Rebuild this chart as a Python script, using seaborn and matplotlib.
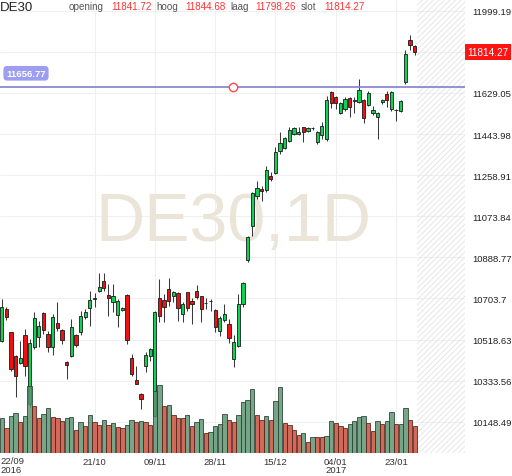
import numpy as np
import pandas as pd
import matplotlib
matplotlib.use("Agg")
import matplotlib.pyplot as plt
import seaborn as sns

# daily candles DE30, 22/09/2016 .. 27/01/2017
opens = [10510, 10656, 10551, 10443, 10413, 10539, 10228, 10483, 10531, 10637,
         10543, 10486, 10594, 10563, 10419, 10443, 10539, 10551, 10619, 10659,
         10703, 10738, 10781, 10719, 10686, 10629, 10650, 10720, 10435, 10336,
         10273, 10401, 10443, 10175, 10704, 10696, 10746, 10716, 10727, 10633,
         10731, 10693, 10738, 10713, 10683, 10693, 10651, 10558, 10608, 10588,
         10431, 10488, 10678, 10878, 11031, 11166, 11196, 11192, 11254, 11268,
         11369, 11381, 11414, 11444, 11444, 11474, 11458, 11470, 11407, 11440,
         11422, 11632, 11609, 11537, 11557, 11605, 11595, 11587, 11598, 11575,
         11539, 11519, 11589, 11624, 11557, 11551, 11549, 11677, 11869, 11841.72]
highs = [10701, 10666, 10553, 10449, 10513, 10566, 10521, 10641, 10603, 10642,
         10558, 10633, 10686, 10566, 10423, 10611, 10543, 10648, 10656, 10738,
         10727, 10817, 10817, 10768, 10768, 10701, 10664, 10724, 10453, 10398,
         10278, 10461, 10480, 10648, 10791, 10724, 10794, 10738, 10731, 10686,
         10734, 10704, 10764, 10716, 10704, 10701, 10656, 10626, 10678, 10611,
         10539, 10724, 10779, 10986, 11181, 11234, 11211, 11299, 11272, 11384,
         11452, 11429, 11474, 11474, 11474, 11476, 11474, 11474, 11459, 11497,
         11616, 11636, 11616, 11589, 11609, 11609, 11609, 11692, 11602, 11636,
         11569, 11542, 11602, 11639, 11639, 11557, 11597, 11824, 11890, 11844.68]
lows = [10507, 10606, 10377, 10258, 10408, 10356, 10215, 10476, 10483, 10543,
        10461, 10450, 10558, 10498, 10341, 10438, 10483, 10539, 10611, 10581,
        10664, 10731, 10738, 10626, 10641, 10574, 10646, 10498, 10356, 10318,
        10206, 10374, 10423, 10170, 10596, 10599, 10671, 10686, 10601, 10599,
        10648, 10588, 10701, 10596, 10656, 10648, 10554, 10536, 10596, 10503,
        10393, 10483, 10664, 10869, 10986, 11151, 11144, 11181, 11234, 11264,
        11354, 11376, 11407, 11441, 11439, 11407, 11452, 11463, 11399, 11422,
        11414, 11560, 11557, 11534, 11549, 11519, 11539, 11584, 11494, 11571,
        11530, 11422, 11579, 11564, 11549, 11504, 11542, 11669, 11824, 11798.26]
closes = [10666, 10621, 10386, 10353, 10434, 10401, 10503, 10615, 10581, 10561,
          10486, 10621, 10570, 10516, 10405, 10574, 10495, 10626, 10641, 10698,
          10705, 10754, 10749, 10704, 10713, 10691, 10659, 10518, 10363, 10320,
          10251, 10450, 10476, 10641, 10626, 10664, 10691, 10731, 10659, 10678,
          10659, 10678, 10709, 10656, 10682, 10692, 10574, 10614, 10633, 10524,
          10509, 10678, 10773, 10982, 11178, 11200, 11189, 11283, 11241, 11362,
          11402, 11425, 11462, 11470, 11454, 11452, 11470, 11471, 11452, 11481,
          11598, 11584, 11584, 11584, 11602, 11564, 11594, 11643, 11515, 11629,
          11553, 11537, 11598, 11597, 11632, 11552, 11594, 11804, 11845, 11814.27]
volume = [106, 76, 113, 120, 95, 113, 203, 141, 105, 118,
          136, 110, 105, 98, 106, 108, 70, 95, 83, 116,
          93, 85, 100, 85, 90, 78, 76, 85, 100, 93,
          98, 93, 85, 188, 206, 143, 146, 115, 106, 105,
          116, 81, 93, 103, 60, 65, 83, 88, 118, 100,
          93, 116, 153, 160, 193, 115, 100, 111, 100, 156,
          198, 90, 85, 70, 55, 60, 33, 50, 49, 48,
          53, 98, 90, 83, 76, 88, 96, 108, 111, 90,
          68, 96, 88, 98, 123, 88, 89, 135, 101, 81]

date_ticks = [20, 33, 46, 59, 72, 85]
date_labels = ["21/10", "09/11", "28/11", "15/12", "04/01\n2017", "23/01"]
first_label = "22/09\n2016"

price_ticks = [10148.49, 10333.56, 10518.63, 10703.7, 10888.77, 11073.84,
               11258.91, 11443.98, 11629.05, 11814.12, 11999.19]
price_labels = ["10148.49", "10333.56", "10518.63", "10703.7", "10888.77", "11073.84",
                "11258.91", "11443.98", "11629.05", "", "11999.19"]
hline_level = 11656.77

sns.set_style("white")
plt.rcParams['font.family'] = ['Liberation Sans', 'DejaVu Sans']
plt.rcParams['hatch.linewidth'] = 0.6
plt.rcParams['hatch.color'] = '#e2e2e2'

df = pd.DataFrame({'open': opens, 'high': highs, 'low': lows, 'close': closes, 'vol': volume})
df['i'] = np.arange(len(df))
df['up'] = df['close'] >= df['open']
vdir = ['up'] + ['up' if volume[k] > volume[k - 1] else 'down' for k in range(1, len(volume))]
df['vdir'] = vdir

fig = plt.figure(figsize=(5.12, 4.77), dpi=100)
ax = fig.add_axes([0, 1 - 454.3 / 477, 465 / 512, 454.3 / 477])
ax.set_facecolor('white')
ax2 = ax.twinx()

xmin, xmax = -0.37, 99.85
ax.set_xlim(xmin, xmax)
ax.set_ylim(10006.2, 12051.9)

# grid
for p in price_ticks:
    ax.axhline(p, color='#f0f0f0', lw=0.8, zorder=0)
for t in date_ticks:
    ax.axvline(t, color='#f0f0f0', lw=0.8, zorder=0)

# future area
ax.axvspan(89.6, xmax, facecolor='none', edgecolor='#e2e2e2', hatch='//////', lw=0, zorder=0)

# watermark
ax.text(233 / 465, 1 - 223 / 454.3, "DE30,1D", transform=ax.transAxes, fontsize=49,
        color='#eae5d8', ha='center', va='center', zorder=0.5)

# candles
ax.vlines(df['i'], df['low'], df['high'], color='#3a3a3a', lw=0.75, zorder=2)
bottoms = np.minimum(df['open'], df['close'])
heights = np.maximum(np.abs(df['close'] - df['open']), 1.0)
body_cols = np.where(df['up'], '#11d155', '#ee1111')
ax.bar(df['i'], heights, bottom=bottoms, width=0.7, color=body_cols,
       edgecolor='#1a1a1a', linewidth=0.6, zorder=3)

# level line with label and handle
ax.axhline(hline_level, color='#7f7fd0', lw=1.2, zorder=4)
ax.plot([233 / 465], [hline_level], transform=ax.get_yaxis_transform(), marker='o',
        ms=6, mfc='white', mec='#ff4a4a', mew=1.0, zorder=5)
ax.annotate(f"{hline_level:.2f}", xy=(0, hline_level), xycoords=ax.get_yaxis_transform(),
            xytext=(4.5, 9.7), textcoords='offset points', ha='left', va='center',
            fontsize=6.8, color='white', fontweight='bold',
            bbox=dict(boxstyle='round,pad=0.3,rounding_size=0.4', fc='#9d9df2', ec='none'),
            zorder=6)

# current price tag
ax.text(1.005, closes[-1], f"{closes[-1]:.2f}", transform=ax.get_yaxis_transform(),
        ha='left', va='center', fontsize=7.2, color='white', clip_on=False,
        bbox=dict(boxstyle='square,pad=0.28', fc='#ff1414', ec='none'), zorder=6)

# axes
for s in ax.spines.values():
    s.set_visible(False)
ax.set_yticks(price_ticks)
ax.set_yticklabels(price_labels)
ax.yaxis.set_ticks_position('right')
ax.tick_params(axis='y', which='both', left=False, labelleft=False, right=False,
               labelright=True, length=0, pad=5, labelsize=6.8, labelcolor='#222222')
ax.set_xticks(date_ticks)
ax.set_xticklabels(date_labels, linespacing=0.95)
ax.tick_params(axis='x', length=0, pad=2.5, labelsize=6.8, labelcolor='#333333')
ax.text(0.0, -0.006, first_label, transform=ax.transAxes, ha='left', va='top',
        fontsize=6.8, color='#333333', linespacing=0.95)

# volume overlay
sns.barplot(data=df, x='i', y='vol', hue='vdir', palette={'up': '#4f9a6c', 'down': '#de3a1f'},
            native_scale=True, dodge=False, width=0.93, errorbar=None, legend=False,
            alpha=0.82, linewidth=0.7, ax=ax2)
for bar in ax2.patches:
    fc = bar.get_facecolor()
    bar.set_edgecolor((fc[0] * 0.45, fc[1] * 0.45, fc[2] * 0.45, 0.9))
ax2.set_ylim(0, 1362)
ax2.set_xlim(xmin, xmax)
ax2.set_axis_off()

# header
hdr_y = 1 - 9.6 / 477
fig.text(0.0, 1 - 10.7 / 477, "DE30", fontsize=9.5, color='#222222', va='baseline')
header = [(68.3, "opening", '#555555'), (111, f"{opens[-1]:.2f}", '#ff3333'),
          (156.7, "hoog", '#555555'), (185, f"{highs[-1]:.2f}", '#ff3333'),
          (230.7, "laag", '#555555'), (255.7, f"{lows[-1]:.2f}", '#ff3333'),
          (300.7, "slot", '#555555'), (324, f"{closes[-1]:.2f}", '#ff3333')]
for px, txt, col in header:
    fig.text(px / 512, hdr_y, txt, fontsize=7.1, color=col, va='baseline')

fig.savefig('out.png', dpi=100)
